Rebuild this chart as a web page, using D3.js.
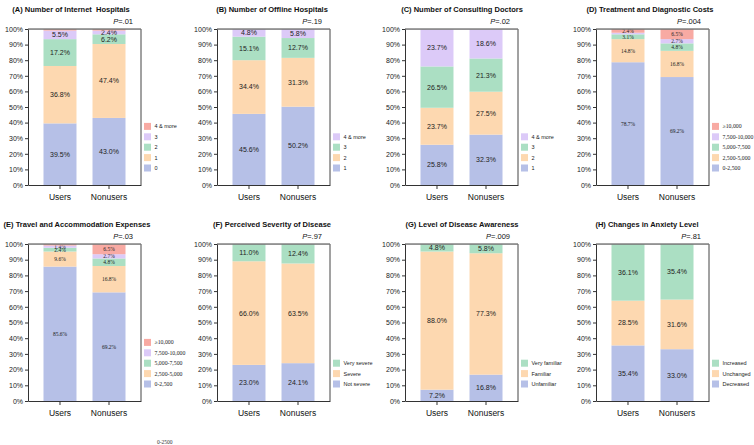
<!DOCTYPE html>
<html>
<head>
<meta charset="utf-8">
<script src="https://cdnjs.cloudflare.com/ajax/libs/d3/7.8.5/d3.min.js"></script>
<style>
  body { margin: 0; background: #fff; }
  svg { display: block; font-family: "Liberation Sans", Arial, sans-serif; }
  .title { white-space: pre; }
</style>
</head>
<body>
<svg id="chart" width="754" height="445"></svg>
<script>
const groups = ["Users", "Nonusers"];
const yTicks = [0, 10, 20, 30, 40, 50, 60, 70, 80, 90, 100];

// (A) internet hospitals
const catsA = ["0", "1", "2", "3", "4 & more"];
const usersA = [39.5, 36.8, 17.2, 5.5, 1.0];
const nonusersA = [43.0, 47.4, 6.2, 2.4, 1.0];
// (B) offline hospitals
const catsB = ["1", "2", "3", "4 & more"];
const usersB = [45.6, 34.4, 15.1, 4.8];
const nonusersB = [50.2, 31.3, 12.7, 5.8];
// (C) consulting doctors
const catsC = ["1", "2", "3", "4 & more"];
const usersC = [25.8, 23.7, 26.5, 23.7];
const nonusersC = [32.3, 27.5, 21.3, 18.6];
// (D) treatment costs, (E) travel costs
const costCats = ["0-2,500", "2,500-5,000", "5,000-7,500", "7,500-10,000", "\u226510,000"];
const usersD = [78.7, 14.8, 3.1, 1.0, 2.4];
const nonusersD = [69.2, 16.8, 4.8, 2.7, 6.5];
const usersE = [85.6, 9.6, 2.4, 1.4, 1.0];
const nonusersE = [69.2, 16.8, 4.8, 2.7, 6.5];
// (F) severity
const catsF = ["Not severe", "Severe", "Very severe"];
const usersF = [23.0, 66.0, 11.0];
const nonusersF = [24.1, 63.5, 12.4];
// (G) awareness
const catsG = ["Unfamiliar", "Familiar", "Very familiar"];
const usersG = [7.2, 88.0, 4.8];
const nonusersG = [16.8, 77.3, 5.8];
// (H) anxiety
const catsH = ["Decreased", "Unchanged", "Increased"];
const usersH = [35.4, 28.5, 36.1];
const nonusersH = [33.0, 31.6, 35.4];

const titles = [
  "(A) Number of Internet  Hospitals", "(B) Number of Offline Hospitals",
  "(C) Number of Consulting Doctors", "(D) Treatment and Diagnostic Costs",
  "(E) Travel and Accommodation Expenses", "(F) Perceived Severity of Disease",
  "(G) Level of Disease Awareness", "(H) Changes in Anxiety Level"
];
const pValues = [".01", ".19", ".02", ".004", ".03", ".97", ".009", ".81"];

const palette = ["#b6c0e7", "#fdd8b0", "#abdfc3", "#dccaf8", "#f8aaa3"];

const panels = [
  {cats: catsA, users: usersA, nonusers: nonusersA},
  {cats: catsB, users: usersB, nonusers: nonusersB},
  {cats: catsC, users: usersC, nonusers: nonusersC},
  {cats: costCats, users: usersD, nonusers: nonusersD, serif: true},
  {cats: costCats, users: usersE, nonusers: nonusersE, serif: true},
  {cats: catsF, users: usersF, nonusers: nonusersF},
  {cats: catsG, users: usersG, nonusers: nonusersG},
  {cats: catsH, users: usersH, nonusers: nonusersH}
];

// layout
const colX = [28, 217, 405, 596];
const plotW = 113;
const rowTop = [29, 244];
const plotH = [156, 157];
const titleX = [71, 272, 462, 650, 77, 272, 462, 647];
const serifFont = "'Liberation Serif', 'Times New Roman', serif";

const svg = d3.select("#chart");

panels.forEach((p, i) => {
  const col = i % 4, row = Math.floor(i / 4);
  const left = colX[col], top = rowTop[row], h = plotH[row];

  const x = d3.scaleBand().domain(groups).range([0, plotW])
    .paddingInner(0.327).paddingOuter(0.316);
  const y = d3.scaleLinear().domain([0, 100]).range([h, 0]);

  const rows = groups.map((g, gi) => {
    const o = {group: g};
    const vals = gi === 0 ? p.users : p.nonusers;
    p.cats.forEach((c, ci) => { o[c] = vals[ci]; });
    return o;
  });
  const series = d3.stack().keys(p.cats)(rows);

  // title
  svg.append("text").attr("class", "title")
    .attr("x", titleX[i]).attr("y", top - 17)
    .attr("text-anchor", "middle")
    .attr("font-size", 7.5).attr("font-weight", "bold").attr("fill", "#111")
    .text(titles[i]);

  const g = svg.append("g").attr("transform", `translate(${left},${top})`);

  const layer = g.selectAll("g.layer").data(series).enter().append("g")
    .attr("class", "layer")
    .attr("fill", (d, k) => palette[k]);
  layer.selectAll("rect").data(d => d).enter().append("rect")
    .attr("x", d => x(d.data.group))
    .attr("y", d => y(d[1]))
    .attr("width", x.bandwidth())
    .attr("height", d => y(d[0]) - y(d[1]));

  // value labels
  layer.selectAll("text").data(d => d)
    .enter().filter(d => d[1] - d[0] > 1.2).append("text")
    .attr("x", d => x(d.data.group) + x.bandwidth() / 2)
    .attr("y", d => y((d[0] + d[1]) / 2))
    .attr("dy", "0.35em")
    .attr("text-anchor", "middle")
    .attr("fill", "#222")
    .attr("font-size", p.serif ? 5.5 : 7)
    .attr("font-family", p.serif ? serifFont : null)
    .text(d => (d[1] - d[0]).toFixed(1) + "%");

  // frame
  g.append("path")
    .attr("d", `M0,0H${plotW}V${h}`)
    .attr("fill", "none").attr("stroke", "#444").attr("stroke-width", 1);
  g.append("line").attr("x1", 0).attr("x2", plotW).attr("y1", 0.5).attr("y2", 0.5)
    .attr("stroke", "#888").attr("stroke-width", 0.6);

  const yAxis = d3.axisLeft(y).tickValues(yTicks).tickSize(3).tickSizeOuter(0)
    .tickPadding(2).tickFormat(d => d + "%");
  const ya = g.append("g").call(yAxis);
  ya.selectAll("text").attr("font-size", 7).attr("fill", "#222");
  ya.selectAll("line, path").attr("stroke", "#333");

  const xAxis = d3.axisBottom(x).tickSize(4).tickSizeOuter(0).tickPadding(5);
  const xa = g.append("g").attr("transform", `translate(0,${h})`).call(xAxis);
  xa.selectAll("text").attr("font-size", 8.5).attr("fill", "#111");
  xa.selectAll("line, path").attr("stroke", "#333");

  // P value
  const pt = g.append("text")
    .attr("x", plotW - 8).attr("y", -5)
    .attr("text-anchor", "end").attr("font-size", 7.5).attr("fill", "#111");
  pt.append("tspan").attr("font-style", "italic").text("P");
  pt.append("tspan").text("=" + pValues[i]);

  // legend
  const leg = g.append("g").attr("transform", `translate(${plotW + 3},0)`);
  p.cats.forEach((c, k) => {
    const cy = h - 17 - k * 10.4;
    leg.append("rect").attr("x", 0).attr("y", cy - 3.5)
      .attr("width", 7).attr("height", 7).attr("fill", palette[k]);
    leg.append("text").attr("x", 10.5).attr("y", cy).attr("dy", "0.35em")
      .attr("font-size", p.serif ? 5.8 : 5.5)
      .attr("font-family", p.serif ? serifFont : null)
      .attr("fill", "#222").text(c);
  });
});

svg.append("text").attr("x", 157).attr("y", 444)
  .attr("font-size", 5.5).attr("font-family", serifFont).attr("fill", "#333")
  .text("0-2500");
</script>
</body>
</html>
